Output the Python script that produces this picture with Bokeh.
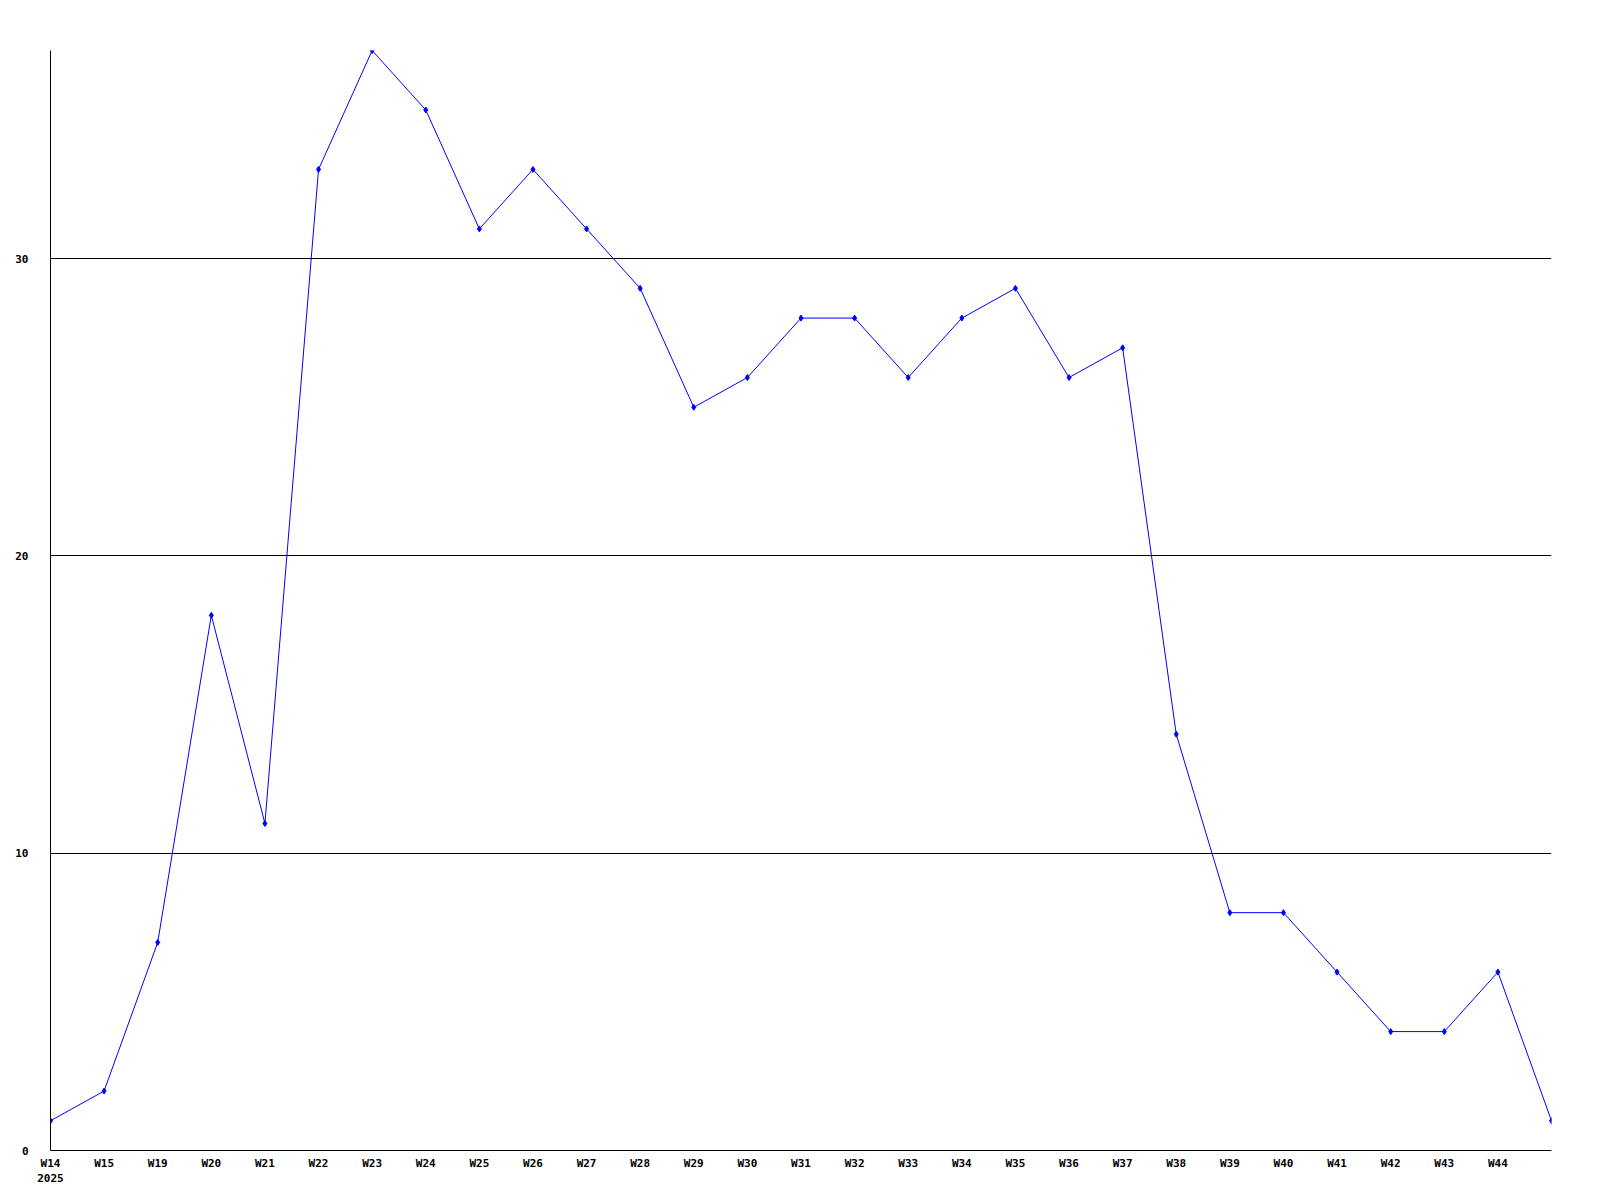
from bokeh.plotting import figure
from bokeh.models import Range1d, FixedTicker
from bokeh.embed import file_html
from bokeh.resources import INLINE

weeks = ["W14", "W15", "W19", "W20", "W21", "W22", "W23", "W24", "W25", "W26",
         "W27", "W28", "W29", "W30", "W31", "W32", "W33", "W34", "W35", "W36",
         "W37", "W38", "W39", "W40", "W41", "W42", "W43", "W44", ""]
counts = [1, 2, 7, 18, 11, 33, 37, 35, 31, 33,
          31, 29, 25, 26, 28, 28, 26, 28, 29, 26,
          27, 14, 8, 8, 6, 4, 4, 6, 1]
y_ticks = [0, 10, 20, 30]

xs = list(range(len(counts)))

p = figure(width=1584, height=1188, output_backend="svg", toolbar_location=None,
           x_range=Range1d(0, len(counts) - 1), y_range=Range1d(0, 37),
           min_border_left=50, min_border_top=50, min_border_right=33, min_border_bottom=34)
p.outline_line_color = None
p.background_fill_color = "white"
p.border_fill_color = "white"

p.line(xs, counts, line_color="#0000ff", line_width=1)
p.scatter(xs, counts, marker="diamond", size=6, color="#0000ff")

# axes
p.xaxis.ticker = FixedTicker(ticks=xs[:-1])
overrides = {i: w for i, w in enumerate(weeks[:-1])}
overrides[0] = "W14\n2025"
p.xaxis.major_label_overrides = overrides
p.yaxis.ticker = FixedTicker(ticks=y_ticks)
for ax in (p.xaxis[0], p.yaxis[0]):
    ax.major_tick_line_color = None
    ax.minor_tick_line_color = None
    ax.axis_line_color = "black"
    ax.axis_line_width = 1
    ax.major_label_text_font = "DejaVu Sans Mono"
    ax.major_label_text_font_style = "bold"
    ax.major_label_text_font_size = "11px"
    ax.major_label_text_color = "black"
p.xaxis.major_label_standoff = 0
p.yaxis.major_label_standoff = 16

p.xgrid.grid_line_color = None
p.ygrid.ticker = FixedTicker(ticks=[10, 20, 30])
p.ygrid.grid_line_color = "black"
p.ygrid.grid_line_width = 1

open("out.html", "w").write(file_html(p, INLINE))
